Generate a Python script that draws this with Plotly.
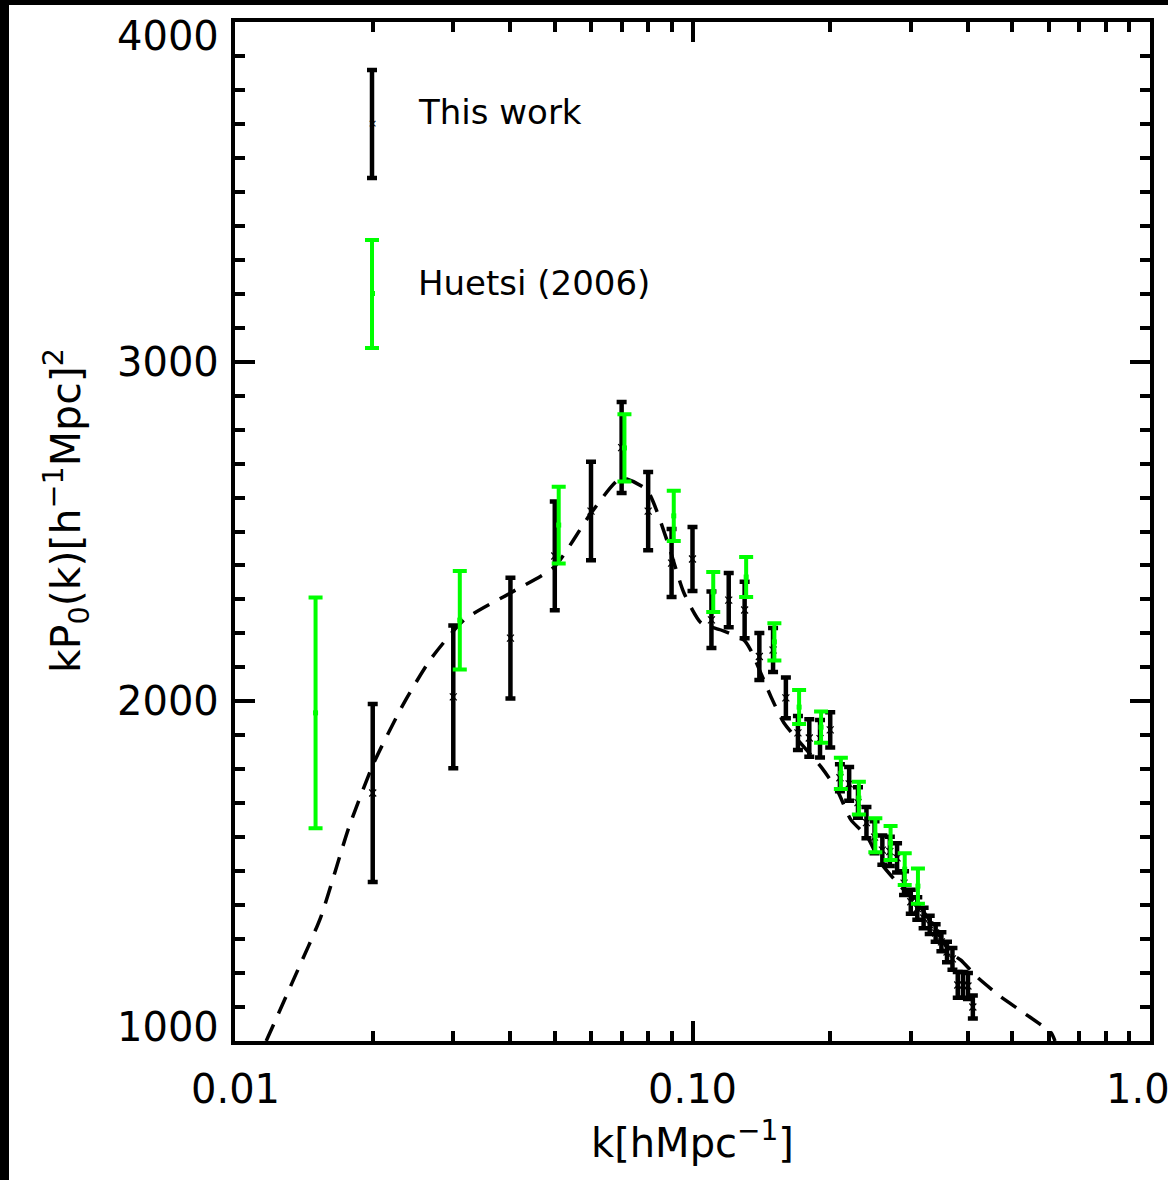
import math
import plotly.graph_objects as go

# ---------------- data ----------------
k_this = [0.02, 0.03, 0.04, 0.05, 0.06, 0.07, 0.08, 0.09, 0.10, 0.11,
          0.12, 0.13, 0.14, 0.15, 0.16, 0.17, 0.18, 0.19, 0.20, 0.21,
          0.22, 0.23, 0.24, 0.25, 0.26, 0.27, 0.28, 0.29, 0.30, 0.31,
          0.32, 0.33, 0.34, 0.35, 0.36, 0.37, 0.38, 0.39, 0.40, 0.41]
p_this = [1730, 2013, 2186, 2428, 2560, 2747, 2560, 2407, 2419, 2240,
          2298, 2269, 2132, 2151, 2010, 1907, 1892, 1890, 1916, 1775,
          1757, 1702, 1643, 1600, 1562, 1558, 1539, 1465, 1410, 1390,
          1362, 1342, 1318, 1292, 1262, 1242, 1165, 1165, 1162, 1100]
e_this = [262, 210, 178, 160, 145, 134, 115, 100, 94, 83,
          80, 83, 69, 65, 60, 50, 55, 55, 52, 40,
          50, 45, 46, 47, 43, 43, 43, 35, 35, 33,
          30, 27, 26, 28, 30, 32, 38, 38, 38, 34]

k_huetsi = [0.015, 0.031, 0.051, 0.071, 0.091, 0.111, 0.131, 0.151,
            0.171, 0.191, 0.211, 0.231, 0.251, 0.271, 0.291, 0.311]
p_huetsi = [1966, 2239, 2519, 2746, 2546, 2322, 2366, 2175,
            1983, 1924, 1788, 1715, 1606, 1583, 1506, 1456]
e_huetsi = [340, 145, 113, 99, 74, 59, 59, 55,
            50, 46, 46, 48, 50, 50, 47, 52]

k_model = [0.0117, 0.0135, 0.0154, 0.01775, 0.0201, 0.0234, 0.0268, 0.0317,
           0.0401, 0.0498, 0.060, 0.0698, 0.0795, 0.0879, 0.0958, 0.1044,
           0.1154, 0.1296, 0.134, 0.1485, 0.1585, 0.191, 0.207, 0.222,
           0.241, 0.258, 0.286, 0.310, 0.337, 0.367, 0.386, 0.419,
           0.472, 0.531, 0.608, 0.620]
p_model = [1000, 1188, 1365, 1630, 1818, 1995, 2125, 2240,
           2320, 2395, 2554, 2657, 2622, 2475, 2319, 2231,
           2210, 2180, 2151, 2013, 1936, 1807, 1739, 1651,
           1601, 1524, 1453, 1406, 1336, 1259, 1238, 1188,
           1130, 1082, 1024, 1000]

y_ticks = [1000, 2000, 3000, 4000]
y_ticktext = ["1000", "2000", "3000", "4000"]
x_range = [0.01, 1.0]
x_ticks = [0.01, 0.1, 1.0]
x_ticktext = ["0.01", "0.10", "1.00"]
x_minor = [0.02, 0.03, 0.04, 0.05, 0.06, 0.07, 0.08, 0.09,
           0.2, 0.3, 0.4, 0.5, 0.6, 0.7, 0.8, 0.9]

series_names = ["This work", "Huetsi (2006)"]
GREEN = "#00ff00"
FONT = "DejaVu Sans"

# ---------------- layout geometry (pixels) ----------------
W, H = 1168, 1180
L, R, T, B = 235, 1150, 22, 1041


def px_x(px):
    return (px - L) / (R - L)


def px_y(py):
    return (B - py) / (B - T)


def k_to_paper(k):
    lo, hi = math.log10(x_range[0]), math.log10(x_range[1])
    return (math.log10(k) - lo) / (hi - lo)


fig = go.Figure()

fig.add_trace(go.Scatter(
    x=k_model, y=p_model, mode="lines",
    line=dict(color="black", width=3.5, dash="18px,12px", shape="spline", smoothing=0.6),
    showlegend=False, hoverinfo="skip"))

fig.add_trace(go.Scatter(
    x=k_this, y=p_this, mode="markers", name=series_names[0],
    marker=dict(symbol="x-thin", size=7, line=dict(color="black", width=1.2), color="black"),
    error_y=dict(type="data", array=e_this, thickness=4.5, width=5, color="black"),
    showlegend=False))

fig.add_trace(go.Scatter(
    x=k_huetsi, y=p_huetsi, mode="markers", name=series_names[1],
    marker=dict(symbol="square", size=5, color=GREEN),
    error_y=dict(type="data", array=e_huetsi, thickness=4, width=7, color=GREEN),
    showlegend=False))

shapes = []
annotations = []

# black strips at the page edges
shapes.append(dict(type="rect", xref="paper", yref="paper",
                   x0=px_x(0), x1=px_x(9), y0=px_y(H), y1=px_y(0),
                   fillcolor="black", line=dict(width=0), layer="above"))
shapes.append(dict(type="rect", xref="paper", yref="paper",
                   x0=px_x(0), x1=px_x(W), y0=px_y(5), y1=px_y(0),
                   fillcolor="black", line=dict(width=0), layer="above"))


# legend glyphs
def err_glyph(xc, ytop, ybot, color, thick, half):
    shapes.append(dict(type="line", xref="paper", yref="paper",
                       x0=px_x(xc), x1=px_x(xc), y0=px_y(ytop), y1=px_y(ybot),
                       line=dict(color=color, width=thick)))
    for yy in (ytop, ybot):
        shapes.append(dict(type="line", xref="paper", yref="paper",
                           x0=px_x(xc - half), x1=px_x(xc + half), y0=px_y(yy), y1=px_y(yy),
                           line=dict(color=color, width=thick)))


err_glyph(372, 70, 178, "black", 4.5, 5)
err_glyph(372, 240, 348, GREEN, 4, 7)
annotations.append(dict(x=px_x(372), y=px_y(123), xref="paper", yref="paper",
                        text="×", showarrow=False, font=dict(family=FONT, size=11, color="black"),
                        xanchor="center", yanchor="middle"))
shapes.append(dict(type="rect", xref="paper", yref="paper",
                   x0=px_x(370), x1=px_x(375), y0=px_y(296), y1=px_y(291),
                   fillcolor=GREEN, line=dict(width=0)))

annotations.append(dict(x=px_x(416), y=px_y(112), xref="paper", yref="paper",
                        text=series_names[0], showarrow=False,
                        font=dict(family=FONT, size=34, color="black"),
                        xanchor="left", yanchor="middle"))
annotations.append(dict(x=px_x(416), y=px_y(283), xref="paper", yref="paper",
                        text=series_names[1], showarrow=False,
                        font=dict(family=FONT, size=34, color="black"),
                        xanchor="left", yanchor="middle"))

# y tick labels (end labels kept inside the frame as in the reference)
for v, t in zip(y_ticks, y_ticktext):
    if v == y_ticks[0]:
        ys = 14
    elif v == y_ticks[-1]:
        ys = -14
    else:
        ys = 0
    annotations.append(dict(x=0, y=v, xref="paper", yref="y", text=t, showarrow=False,
                            xanchor="right", yanchor="middle", xshift=-14, yshift=ys,
                            font=dict(family=FONT, size=40, color="black")))

# x tick labels
for v, t in zip(x_ticks, x_ticktext):
    annotations.append(dict(x=k_to_paper(v), y=px_y(1089), xref="paper", yref="paper",
                            text=t, showarrow=False, xanchor="center", yanchor="middle",
                            font=dict(family=FONT, size=40, color="black")))

# axis titles
annotations.append(dict(x=px_x(66), y=px_y(511), xref="paper", yref="paper",
                        text="kP<sub>0</sub>(k)[h<sup>−1</sup>Mpc]<sup>2</sup>",
                        textangle=-90, showarrow=False,
                        font=dict(family=FONT, size=41, color="black"),
                        xanchor="center", yanchor="middle"))
annotations.append(dict(x=0.5, y=px_y(1140), xref="paper", yref="paper",
                        text="k[hMpc<sup>−1</sup>]", showarrow=False,
                        font=dict(family=FONT, size=40, color="black"),
                        xanchor="center", yanchor="middle"))

fig.update_layout(
    width=W, height=H,
    margin=dict(l=L, r=W - R, t=T, b=H - B, pad=0, autoexpand=False),
    paper_bgcolor="white", plot_bgcolor="white",
    font=dict(family=FONT, color="black"),
    shapes=shapes, annotations=annotations,
    showlegend=False,
)

fig.update_xaxes(
    type="log", range=[math.log10(x_range[0]), math.log10(x_range[1])],
    showgrid=False, zeroline=False, automargin=False,
    showline=True, linecolor="black", linewidth=4, mirror="allticks",
    ticks="inside", ticklen=20, tickwidth=4, tickcolor="black",
    tickvals=x_ticks, showticklabels=False,
    minor=dict(ticks="inside", ticklen=10, tickwidth=4, tickcolor="black",
               tickvals=x_minor, showgrid=False),
)

fig.update_yaxes(
    range=[1000, 4000],
    showgrid=False, zeroline=False, automargin=False,
    showline=True, linecolor="black", linewidth=4, mirror="allticks",
    ticks="inside", ticklen=20, tickwidth=4, tickcolor="black",
    tickvals=y_ticks, showticklabels=False,
    minor=dict(ticks="inside", ticklen=10, tickwidth=4, tickcolor="black",
               dtick=100, showgrid=False),
)

fig.write_html("out.html")
